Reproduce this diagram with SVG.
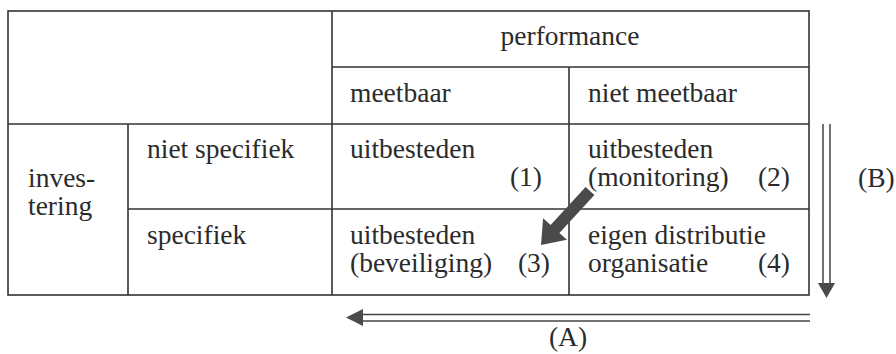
<svg xmlns="http://www.w3.org/2000/svg" width="896" height="354" viewBox="0 0 896 354">
<style>
.t{font-family:"Liberation Serif","Times New Roman",serif;font-size:27.5px;fill:#2b2b2b}
.g{stroke:#333;stroke-width:1.6;fill:none}
.a{stroke:#444;stroke-width:1.5;fill:none}
.h{fill:#4a4a4a}
</style>
<rect width="896" height="354" fill="#fff"/>
<g id="table">
<rect class="g" x="8" y="11" width="801" height="284"/>
<line class="g" x1="332" y1="11" x2="332" y2="295"/>
<line class="g" x1="332" y1="67" x2="809" y2="67"/>
<line class="g" x1="569" y1="67" x2="569" y2="295"/>
<line class="g" x1="8" y1="124" x2="809" y2="124"/>
<line class="g" x1="128" y1="124" x2="128" y2="295"/>
<line class="g" x1="128" y1="209" x2="809" y2="209"/>
</g>
<g id="header-performance"><text class="t" x="570" y="45" text-anchor="middle">performance</text></g>
<g id="header-meetbaar"><text class="t" x="350" y="102">meetbaar</text></g>
<g id="header-niet-meetbaar"><text class="t" x="588" y="102">niet meetbaar</text></g>
<g id="row-investering"><text class="t" x="28" y="187">inves-</text><text class="t" x="28" y="215">tering</text></g>
<g id="row-niet-specifiek"><text class="t" x="147" y="158">niet specifiek</text></g>
<g id="row-specifiek"><text class="t" x="147" y="244">specifiek</text></g>
<g id="cell-1"><text class="t" x="350" y="158">uitbesteden</text><text class="t" x="542" y="186" text-anchor="end">(1)</text></g>
<g id="cell-2"><text class="t" x="588" y="158">uitbesteden</text><text class="t" x="588" y="186">(monitoring)</text><text class="t" x="790" y="186" text-anchor="end">(2)</text></g>
<g id="cell-3"><text class="t" x="350" y="244">uitbesteden</text><text class="t" x="350" y="272">(beveiliging)</text><text class="t" x="550" y="272" text-anchor="end">(3)</text></g>
<g id="cell-4"><text class="t" x="588" y="244">eigen distributie</text><text class="t" x="588" y="272">organisatie</text><text class="t" x="790" y="272" text-anchor="end">(4)</text></g>
<g id="label-B"><text class="t" x="858" y="187">(B)</text></g>
<g id="label-A"><text class="t" x="568" y="346" text-anchor="middle">(A)</text></g>
<g id="connectors">
<line class="a" x1="823" y1="124" x2="823" y2="284"/>
<line class="a" x1="830" y1="124" x2="830" y2="284"/>
<polygon class="h" points="818,283 835,283 826.5,298"/>
<line class="a" x1="361" y1="314.5" x2="810" y2="314.5"/>
<line class="a" x1="361" y1="321" x2="810" y2="321"/>
<polygon class="h" points="346,317.5 363,309 363,326"/>
<polygon class="h" points="594.4,195 585.6,187 550.6,225 543.1,218.3 541,245 566.9,239.7 559.4,233"/>
</g>
</svg>
